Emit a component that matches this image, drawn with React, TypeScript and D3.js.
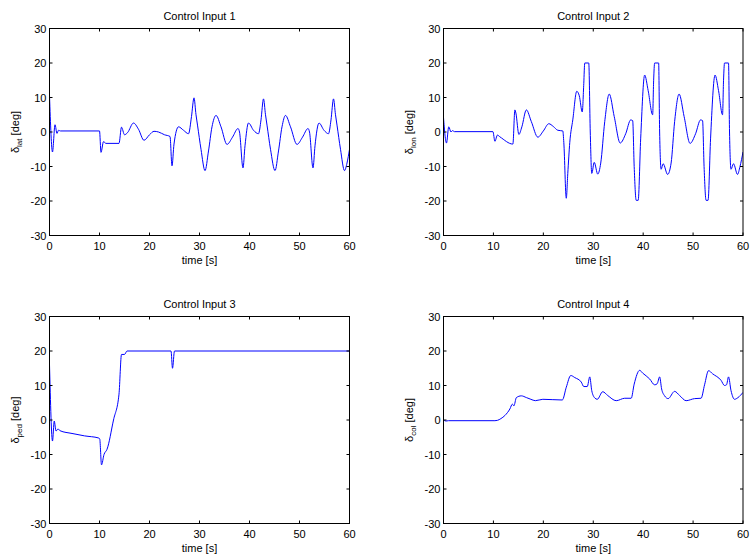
import React from "react";
import * as d3 from "d3";

// Control deflections over time [s] -> [deg]
const timeTicks = [0, 10, 20, 30, 40, 50, 60];
const degTicks = [-30, -20, -10, 0, 10, 20, 30];

const latInput: [number, number][] = [
  [0, 10.5], [0.6, -5.8], [1.1, 2.1], [1.5, -0.4], [1.8, 0.5], [2.2, 0.3], [10.0, 0.3],
  [10.3, -5.9], [10.8, -2.8], [11.3, -3.3], [13.9, -3.3], [14.4, 1.4], [15.0, -0.8],
  [15.6, -0.2], [16.8, 2.6], [17.8, 0.8], [18.9, -2.4], [20.0, -0.8], [20.9, 0.2],
  [21.8, 0.0], [23.0, -0.8], [24.1, -1.3], [24.5, -9.8], [24.9, -3.5], [25.8, 1.5],
  [26.8, 0.5], [27.8, -0.5], [28.4, 4.5], [28.9, 9.9], [29.3, 5], [29.6, 2], [30.3, -5],
  [31.1, -11.2], [31.8, -5.5], [32.5, 1.5], [33.3, 4.8], [34.3, 1.5], [35.5, -3.6],
  [36.6, -1.5], [37.7, 1.0], [38.0, 0], [38.7, -10.4], [39.1, -4], [39.8, 2.6],
  [40.8, 0.5], [41.8, -0.5], [42.3, 3.5], [42.8, 9.6], [43.2, 5], [43.5, 2], [44.2, -5],
  [45.1, -11.2], [45.8, -5.5], [46.5, 1.5], [47.2, 4.8], [48.2, 1.5], [49.5, -3.6],
  [50.6, -1.5], [51.7, 1.0], [52.0, 0], [52.7, -10.4], [53.1, -4], [53.9, 2.6],
  [54.9, 0.5], [55.8, -0.5], [56.3, 3.5], [56.8, 9.6], [57.2, 5], [57.5, 2], [58.2, -5],
  [59.0, -11.2], [59.5, -9], [60, -5],
];

const lonInput: [number, number][] = [
  [0, 4.2], [0.6, -3.2], [1.05, 1.5], [1.5, 0], [1.8, 0.4], [2.2, 0.1], [9.9, 0.1],
  [10.3, -2.7], [10.8, -0.9], [11.3, -1.4], [13.9, -3.5], [14.3, 6.4], [14.5, 5.5],
  [15.1, -0.7], [15.7, 1.5], [16.6, 6.4], [17.6, 3], [18.9, -1.5], [20.0, 0.3],
  [21.1, 2.4], [22.0, 1.6], [22.9, 0.5], [23.9, 0.3], [24.1, -3], [24.6, -19.2],
  [24.9, -12], [25.3, -3], [25.9, 3.5], [26.7, 11.8], [27.2, 10.5], [27.8, 5.8],
  [28.1, 14], [28.3, 20], [29.1, 20], [29.4, 0], [29.7, -12], [30.2, -8.8],
  [30.9, -12.2], [31.5, -9], [32.3, 3], [33.2, 11], [34.2, 4.5], [35.4, -3.2],
  [36.5, -0.5], [37.5, 3.5], [37.9, 3.3], [38.2, -10], [38.6, -19.8], [39.0, -19.8],
  [39.5, -2], [40.3, 16.5], [41.0, 12], [41.9, 5], [42.1, 15], [42.3, 20], [43.1, 20],
  [43.3, 0], [43.6, -10.8], [44.0, -9.2], [44.9, -12.3], [45.6, -9], [46.3, 3],
  [47.2, 11], [48.2, 4.5], [49.4, -3.3], [50.5, -0.5], [51.5, 3.5], [51.9, 3.3],
  [52.2, -10], [52.6, -19.8], [53.0, -19.8], [53.5, -2], [54.4, 16.5], [55.1, 12],
  [55.9, 5], [56.1, 15], [56.3, 20], [57.1, 20], [57.3, 0], [57.6, -10.8], [58.1, -9.2],
  [58.9, -12.3], [59.4, -10], [60, -5.8],
];

const pedInput: [number, number][] = [
  [0, 16], [0.6, -6.1], [0.95, -0.3], [1.3, -3.2], [1.7, -2.6], [2.1, -3.1], [4.5, -3.9],
  [7, -4.6], [9.8, -5.2], [10.05, -5.5], [10.4, -13], [10.9, -10], [11.5, -8.5],
  [12.8, 0], [13.9, 7.5], [14.4, 19], [15.0, 19], [15.5, 20], [24.3, 20], [24.6, 15],
  [25.0, 20], [60, 20],
];

const colInput: [number, number][] = [
  [0, 0], [0.5, -0.3], [1, -0.2], [10.3, -0.2], [10.8, -0.1], [11.5, 0.4], [12.3, 1.3],
  [13.3, 3.2], [13.8, 4.6], [14.1, 4.1], [14.6, 6.5], [15.6, 7.0], [16.6, 6.5],
  [17.5, 6.0], [18.4, 5.6], [19.9, 6.0], [21.9, 5.9], [23.8, 5.8], [24.6, 9.5],
  [25.5, 12.9], [26.3, 12.3], [27.6, 11.0], [28.1, 9.7], [28.8, 9.7], [29.3, 12.5],
  [29.7, 8.5], [30.3, 6.4], [30.8, 6.0], [31.9, 8.2], [32.9, 7.1], [34.6, 5.6],
  [36.3, 6.3], [37.6, 6.3], [38.2, 10.4], [39.3, 14.4], [39.9, 13.6], [41.3, 11.9],
  [42.3, 10.2], [42.8, 10.5], [43.3, 12.5], [43.7, 9], [44.3, 7.0], [45.0, 6.2],
  [46.3, 8.3], [47.3, 7.1], [48.6, 5.6], [50.3, 6.2], [51.6, 6.3], [52.3, 10.2],
  [53.1, 14.3], [53.9, 13.4], [55.6, 11.5], [56.3, 10.0], [56.7, 10.2], [57.1, 12.5],
  [57.6, 8.5], [58.3, 6.0], [59.0, 6.5], [60, 8.0],
];

const FONT = "'Liberation Sans', Arial, Helvetica, sans-serif";

type PanelProps = {
  left: number;
  top: number;
  width: number;
  height: number;
  title: string;
  sub: string;
  data: [number, number][];
};

function Panel({ left, top, width, height, title, sub, data }: PanelProps) {
  const x = d3.scaleLinear().domain([0, 60]).range([left, left + width]);
  const y = d3.scaleLinear().domain([-30, 30]).range([top + height, top]);
  const line = d3
    .line<[number, number]>()
    .x((d) => x(d[0]))
    .y((d) => y(d[1]))
    .curve(d3.curveMonotoneX);
  const tl = 3;
  const bottom = top + height;
  const right = left + width;
  const cy = top + height / 2;
  return (
    <g fontFamily={FONT} fontSize={11} fill="#000">
      <defs>
        <clipPath id={`clip-${title.replace(/\s/g, "")}`}>
          <rect x={left} y={top} width={width} height={height} />
        </clipPath>
      </defs>
      <path
        d={line(data) || ""}
        fill="none"
        stroke="#0000ff"
        strokeWidth={1}
        clipPath={`url(#clip-${title.replace(/\s/g, "")})`}
      />
      <rect x={left} y={top} width={width} height={height} fill="none" stroke="#000" strokeWidth={1} />
      {timeTicks.map((t) => (
        <g key={`xt${t}`}>
          <line x1={x(t)} x2={x(t)} y1={bottom} y2={bottom - tl} stroke="#000" />
          <line x1={x(t)} x2={x(t)} y1={top} y2={top + tl} stroke="#000" />
          <text x={x(t)} y={bottom + 14.5} textAnchor="middle">{t}</text>
        </g>
      ))}
      {degTicks.map((v) => (
        <g key={`yt${v}`}>
          <line x1={left} x2={left + tl} y1={y(v)} y2={y(v)} stroke="#000" />
          <line x1={right} x2={right - tl} y1={y(v)} y2={y(v)} stroke="#000" />
          <text x={left - 3} y={y(v) + 4} textAnchor="end">{v}</text>
        </g>
      ))}
      <text x={left + width / 2} y={top - 8.5} textAnchor="middle">{title}</text>
      <text x={left + width / 2} y={bottom + 28.5} textAnchor="middle">time [s]</text>
      <text transform={`translate(${left - 30.5},${cy}) rotate(-90)`} textAnchor="middle">
        δ<tspan fontSize={8} dy={3}>{sub}</tspan>
        <tspan dy={-3}> [deg]</tspan>
      </text>
    </g>
  );
}

export default function App() {
  return (
    <svg
      width={752}
      height={556}
      style={{ position: "absolute", left: 0, top: 0, background: "#fff" }}
    >
      <rect x={0} y={0} width={752} height={556} fill="#fff" />
      <Panel left={49.5} top={28.5} width={300} height={207} title="Control Input 1" sub="lat" data={latInput} />
      <Panel left={443.5} top={28.5} width={299.5} height={207} title="Control Input 2" sub="lon" data={lonInput} />
      <Panel left={49.5} top={316.5} width={300} height={207} title="Control Input 3" sub="ped" data={pedInput} />
      <Panel left={443.5} top={316.5} width={299.5} height={207} title="Control Input 4" sub="col" data={colInput} />
    </svg>
  );
}
